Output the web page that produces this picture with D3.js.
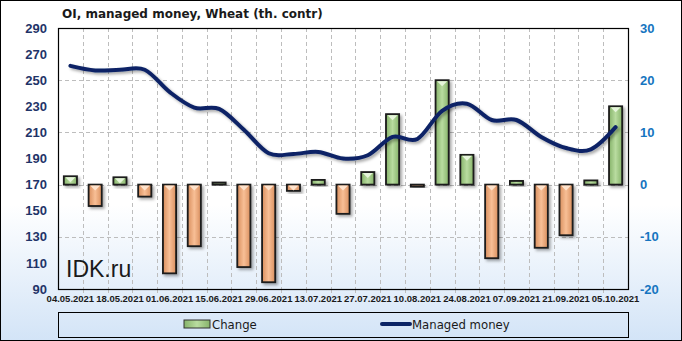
<!DOCTYPE html>
<html>
<head>
<meta charset="utf-8">
<script src="https://cdn.jsdelivr.net/npm/d3@7/dist/d3.min.js"></script>
<style>
  body { margin: 0; }
  svg { display: block; }
</style>
</head>
<body>
<div class="canvas"></div>
<script>
/**
 * Data
 */
const dates = ["04.05.2021", "11.05.2021", "18.05.2021", "25.05.2021", "01.06.2021", "08.06.2021",
    "15.06.2021", "22.06.2021", "29.06.2021", "06.07.2021", "13.07.2021", "20.07.2021",
    "27.07.2021", "03.08.2021", "10.08.2021", "17.08.2021", "24.08.2021", "31.08.2021",
    "07.09.2021", "14.09.2021", "21.09.2021", "28.09.2021", "05.10.2021"]
const change = [1.6, -4.1, 1.4, -2.3, -17.0, -11.8, 0.4, -15.8, -18.7, -1.2, 0.9, -5.6,
    2.4, 13.5, -0.4, 20.0, 5.7, -14.1, 0.7, -12.1, -9.7, 0.8, 15.0]
const managed = [261, 257.5, 258, 258, 241, 229, 228, 212, 194, 193.5, 195, 190,
    192.5, 206.5, 205, 226.5, 232, 219.5, 219.5, 206.5, 198, 197, 214]
const leftTicks = [90, 110, 130, 150, 170, 190, 210, 230, 250, 270, 290]
const rightTicks = [-20, -10, 0, 10, 20, 30]
const title = "OI, managed money, Wheat (th. contr)"

/**
 * Dimension setup
 */
const dims = { width: 682, height: 341 }
const plot = { left: 58, right: 628, top: 28, bottom: 289 }

const svg = d3.select(".canvas")
    .append("svg")
    .attr("width", dims.width)
    .attr("height", dims.height)

const defs = svg.append("defs")

// background gradient
const bg = defs.append("linearGradient").attr("id", "bg")
    .attr("x1", 0).attr("y1", 0).attr("x2", 0).attr("y2", 1)
bg.append("stop").attr("offset", "0").attr("stop-color", "#ffffff")
bg.append("stop").attr("offset", "0.6").attr("stop-color", "#ffffff")
bg.append("stop").attr("offset", "1").attr("stop-color", "#d3e4f7")

// bar gradients
const grad = (id, edge, mid) => {
    const g = defs.append("linearGradient").attr("id", id)
        .attr("x1", 0).attr("y1", 0).attr("x2", 1).attr("y2", 0)
    g.append("stop").attr("offset", "0").attr("stop-color", edge)
    g.append("stop").attr("offset", "0.5").attr("stop-color", mid)
    g.append("stop").attr("offset", "1").attr("stop-color", edge)
}
grad("gPos", "#86b36a", "#b9dca0")
grad("gNeg", "#d98f5e", "#f8bf96")

// shadow
const sh = defs.append("filter").attr("id", "shadow")
    .attr("x", "-50%").attr("y", "-50%").attr("width", "200%").attr("height", "200%")
sh.append("feDropShadow").attr("dx", 2).attr("dy", 2).attr("stdDeviation", 1.5)
    .attr("flood-color", "#000").attr("flood-opacity", 0.35)

svg.append("rect")
    .attr("x", 0.5).attr("y", 0.5)
    .attr("width", dims.width - 1).attr("height", dims.height - 1)
    .attr("fill", "url(#bg)")
    .attr("stroke", "#000")

/**
 * Scales
 */
const x = d3.scaleBand()
    .domain(dates)
    .range([plot.left, plot.right])
    .paddingInner(0.47)
    .paddingOuter(0.235)

const yLeft = d3.scaleLinear().domain([90, 290]).range([plot.bottom, plot.top])
const yRight = d3.scaleLinear().domain([-20, 30]).range([plot.bottom, plot.top])

const step = x.step()
const gap = (step - x.bandwidth()) / 2

/**
 * Grid
 */
const grid = svg.append("g")
    .attr("stroke", "#bdbdbd")
    .attr("stroke-dasharray", "4,3")

grid.selectAll(".vg")
    .data(dates.slice(1))
    .enter().append("line")
    .attr("x1", d => Math.round(x(d) - gap) + 0.5)
    .attr("x2", d => Math.round(x(d) - gap) + 0.5)
    .attr("y1", plot.top)
    .attr("y2", plot.bottom)

grid.selectAll(".hg")
    .data(rightTicks.filter(t => t > -20 && t < 30))
    .enter().append("line")
    .attr("x1", plot.left)
    .attr("x2", plot.right)
    .attr("y1", d => Math.round(yRight(d)) + 0.5)
    .attr("y2", d => Math.round(yRight(d)) + 0.5)

// small ticks below the axis
svg.append("g").attr("stroke", "#bdbdbd")
    .selectAll("line")
    .data(dates.slice(1))
    .enter().append("line")
    .attr("x1", d => Math.round(x(d) - gap) + 0.5)
    .attr("x2", d => Math.round(x(d) - gap) + 0.5)
    .attr("y1", plot.bottom)
    .attr("y2", plot.bottom + 4)

/**
 * Bars
 */
const zero = yRight(0)
const bars = svg.append("g")
bars.selectAll("rect")
    .data(change.map((v, i) => ({ v, d: dates[i] })))
    .enter().append("rect")
    .attr("x", d => x(d.d))
    .attr("width", x.bandwidth())
    .attr("y", d => Math.min(yRight(d.v), zero))
    .attr("height", d => Math.max(Math.abs(yRight(d.v) - zero), 1.5))
    .attr("fill", d => d.v >= 0 ? "url(#gPos)" : "url(#gNeg)")
    .attr("stroke", "#1a1a1a")
    .attr("stroke-width", 1.8)
    .attr("filter", "url(#shadow)")

// bevel highlight at the top of each bar
bars.selectAll("path")
    .data(change.map((v, i) => ({ v, d: dates[i] })).filter(d => Math.abs(yRight(d.v) - zero) > 5))
    .enter().append("path")
    .attr("d", d => {
        const x0 = x(d.d) + 1.5, x1 = x(d.d) + x.bandwidth() - 1.5
        const top = Math.min(yRight(d.v), zero) + 1
        return `M${x0},${top}L${x1},${top}L${(x0 + x1) / 2},${top + 5}Z`
    })
    .attr("fill", d => d.v >= 0 ? "#e6f5db" : "#fee3cd")

/**
 * Line
 */
const line = d3.line()
    .x((d, i) => x(dates[i]) + x.bandwidth() / 2)
    .y(d => yLeft(d))
    .curve(d3.curveCatmullRom.alpha(0))

svg.append("path")
    .datum(managed)
    .attr("d", line)
    .attr("fill", "none")
    .attr("stroke", "#0b2466")
    .attr("stroke-width", 4)
    .attr("stroke-linecap", "round")
    .attr("filter", "url(#shadow)")

/**
 * Plot frame
 */
svg.append("rect")
    .attr("x", plot.left + 0.5).attr("y", plot.top + 0.5)
    .attr("width", plot.right - plot.left).attr("height", plot.bottom - plot.top)
    .attr("fill", "none")
    .attr("stroke", "#000")
    .attr("stroke-width", 1.2)

/**
 * Axes labels
 */
svg.append("g")
    .selectAll("text")
    .data(leftTicks)
    .enter().append("text")
    .attr("x", 47)
    .attr("y", d => yLeft(d))
    .attr("dy", "0.36em")
    .attr("text-anchor", "end")
    .attr("font-family", "Liberation Sans, Arial, sans-serif")
    .attr("font-weight", "bold")
    .attr("font-size", 13)
    .attr("fill", "#1f3468")
    .text(d => d)

svg.append("g")
    .selectAll("text")
    .data(rightTicks)
    .enter().append("text")
    .attr("x", 640)
    .attr("y", d => yRight(d))
    .attr("dy", "0.36em")
    .attr("font-family", "Liberation Sans, Arial, sans-serif")
    .attr("font-weight", "bold")
    .attr("font-size", 13)
    .attr("fill", "#1675c0")
    .text(d => d)

svg.append("g")
    .selectAll("text")
    .data(dates.filter((d, i) => i % 2 === 0))
    .enter().append("text")
    .attr("x", d => x(d) + x.bandwidth() / 2)
    .attr("y", 302)
    .attr("text-anchor", "middle")
    .attr("font-family", "Liberation Sans, Arial, sans-serif")
    .attr("font-weight", "bold")
    .attr("font-size", 9.5)
    .attr("fill", "#1a1a1a")
    .text(d => d)

/**
 * Title and watermark
 */
svg.append("text")
    .attr("x", 62).attr("y", 18)
    .attr("font-family", "DejaVu Sans, Verdana, sans-serif")
    .attr("font-weight", "bold")
    .attr("font-size", 12)
    .attr("fill", "#1a1a1a")
    .text(title)

svg.append("text")
    .attr("x", 66).attr("y", 277)
    .attr("font-family", "Liberation Sans, Arial, sans-serif")
    .attr("font-size", 23)
    .attr("fill", "#1a1a1a")
    .text("IDK.ru")

/**
 * Legend
 */
const legend = svg.append("g")
legend.append("rect")
    .attr("x", 58.5).attr("y", 312.5)
    .attr("width", 570).attr("height", 25)
    .attr("fill", "none")
    .attr("stroke", "#000")

legend.append("rect")
    .attr("x", 184).attr("y", 320)
    .attr("width", 26).attr("height", 8)
    .attr("fill", "url(#gPos)")
    .attr("stroke", "#333")
legend.append("text")
    .attr("x", 212).attr("y", 329)
    .attr("font-family", "DejaVu Sans Condensed, DejaVu Sans, sans-serif")
    .attr("font-size", 13)
    .attr("fill", "#1a1a1a")
    .text("Change")

legend.append("line")
    .attr("x1", 382).attr("x2", 410)
    .attr("y1", 324).attr("y2", 324)
    .attr("stroke", "#0b2466")
    .attr("stroke-width", 4)
    .attr("stroke-linecap", "round")
legend.append("text")
    .attr("x", 412).attr("y", 329)
    .attr("font-family", "DejaVu Sans Condensed, DejaVu Sans, sans-serif")
    .attr("font-size", 13)
    .attr("fill", "#1a1a1a")
    .text("Managed money")
</script>
</body>
</html>
